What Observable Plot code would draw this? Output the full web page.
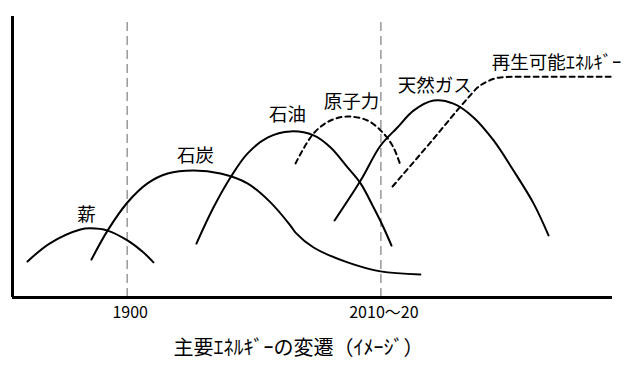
<!DOCTYPE html>
<html>
<head>
<meta charset="utf-8">
<script src="https://cdn.jsdelivr.net/npm/d3@7"></script>
<script src="https://cdn.jsdelivr.net/npm/@observablehq/plot@0.6"></script>
<style>
  html, body { margin: 0; padding: 0; background: #fff; }
</style>
</head>
<body>
<div id="chart"></div>
<script>
// Timeline (approximate years) and relative share (arbitrary 0–100 units)
const xDomain = [1848, 2120];
const tickYears = [1900, 2015];
const tickLabels = ["1900", "2010〜20"];
const titleText = "主要ｴﾈﾙｷﾞｰの変遷（ｲﾒｰｼﾞ）";

const woodYears   = [1854.8, 1864.8, 1878.8, 1883.4, 1891.1, 1900.1, 1907.4, 1911.9];
const woodValues  = [12.8, 19.2, 24.2, 24.6, 23.8, 20.3, 16.0, 12.5];

const coalYears   = [1883.8, 1891.1, 1900.1, 1909.2, 1918.3, 1930.1, 1942.3, 1954.5, 1964.5, 1974.0, 1976.3, 1984.5, 1999.9, 2014.8, 2032.9];
const coalValues  = [13.5, 23.8, 33.8, 40.6, 44.1, 45.2, 44.1, 40.6, 34.2, 25.6, 23.1, 17.8, 12.5, 9.3, 8.2];

const oilYears    = [1931.4, 1939.1, 1946.8, 1954.5, 1963.6, 1974.0, 1984.5, 1992.2, 1999.9, 2005.8, 2011.7, 2016.2, 2019.8];
const oilValues   = [19.2, 32.0, 42.7, 51.2, 56.9, 59.1, 57.7, 53.4, 46.3, 40.6, 32.0, 24.9, 18.5];

const nuclearYears  = [1976.3, 1984.5, 1992.2, 1999.9, 2008.9, 2016.2, 2020.7, 2023.9];
const nuclearValues = [47.7, 58.4, 63.0, 64.4, 63.0, 58.4, 53.4, 47.0];

const gasYears    = [1994.0, 2005.8, 2014.8, 2022.5, 2029.8, 2038.9, 2047.9, 2057.0, 2066.1, 2075.1, 2084.2, 2091.0];
const gasValues   = [27.4, 41.6, 54.0, 60.5, 66.5, 70.1, 69.0, 64.1, 55.9, 45.2, 33.5, 22.1];

const renewYears  = [2020.3, 2037.5, 2054.7, 2058.8, 2063.3, 2069.2, 2078.3, 2120];
const renewValues = [39.5, 55.2, 71.2, 74.7, 76.9, 78.3, 78.6, 78.6];

const labelNames  = ["薪", "石炭", "石油", "原子力", "天然ガス", "再生可能ｴﾈﾙｷﾞｰ"];
const labelYears  = [1881.5, 1931.0, 1972.7, 2001.7, 2039.4, 2094.6];
const labelValues = [29.2, 50.5, 64.8, 69.4, 75.4, 83.6];

const zip = (xs, ys) => xs.map((x, i) => ({x, y: ys[i]}));
const solid = [zip(woodYears, woodValues), zip(coalYears, coalValues), zip(oilYears, oilValues), zip(gasYears, gasValues)];
const nuclear = zip(nuclearYears, nuclearValues);
const renew = zip(renewYears, renewValues);
const labels = labelNames.map((name, i) => ({name, x: labelYears[i], y: labelValues[i]}));

const font = "'Noto Sans CJK JP', 'Noto Sans', sans-serif";

const chart = Plot.plot({
  width: 640,
  height: 374,
  marginLeft: 12,
  marginRight: 28,
  marginTop: 16,
  marginBottom: 77,
  style: {fontFamily: font, background: "#fff", color: "#000"},
  x: {domain: xDomain, axis: null, label: null},
  y: {domain: [0, 100], axis: null, label: null},
  marks: [
    Plot.ruleX(tickYears, {y1: 0, y2: 98.5, stroke: "#999", strokeWidth: 1.5, strokeDasharray: "9,5"}),
    ...solid.map(d => Plot.line(d, {x: "x", y: "y", curve: "catmull-rom", stroke: "#000", strokeWidth: 2})),
    Plot.line(nuclear, {x: "x", y: "y", curve: "catmull-rom", stroke: "#000", strokeWidth: 2, strokeDasharray: "5,4"}),
    Plot.line(renew, {x: "x", y: "y", curve: "monotone-x", stroke: "#000", strokeWidth: 2, strokeDasharray: "5,4"}),
    Plot.ruleY([0], {stroke: "#000", strokeWidth: 3}),
    Plot.ruleX([xDomain[0]], {stroke: "#000", strokeWidth: 3}),
    Plot.axisX({ticks: tickYears, tickFormat: (d) => tickLabels[tickYears.indexOf(d)], tickSize: 0, tickPadding: 9, fontSize: 16, fill: "#000", dx: 3, label: null}),
    Plot.text(labels, {x: "x", y: "y", text: "name", fontSize: 18.5, fill: "#000", textAnchor: "middle", lineAnchor: "middle"}),
    Plot.text([titleText], {frameAnchor: "bottom", dy: 51, dx: -14, fontSize: 20, fill: "#000", lineAnchor: "middle"})
  ]
});
document.getElementById("chart").appendChild(chart);
</script>
</body>
</html>
